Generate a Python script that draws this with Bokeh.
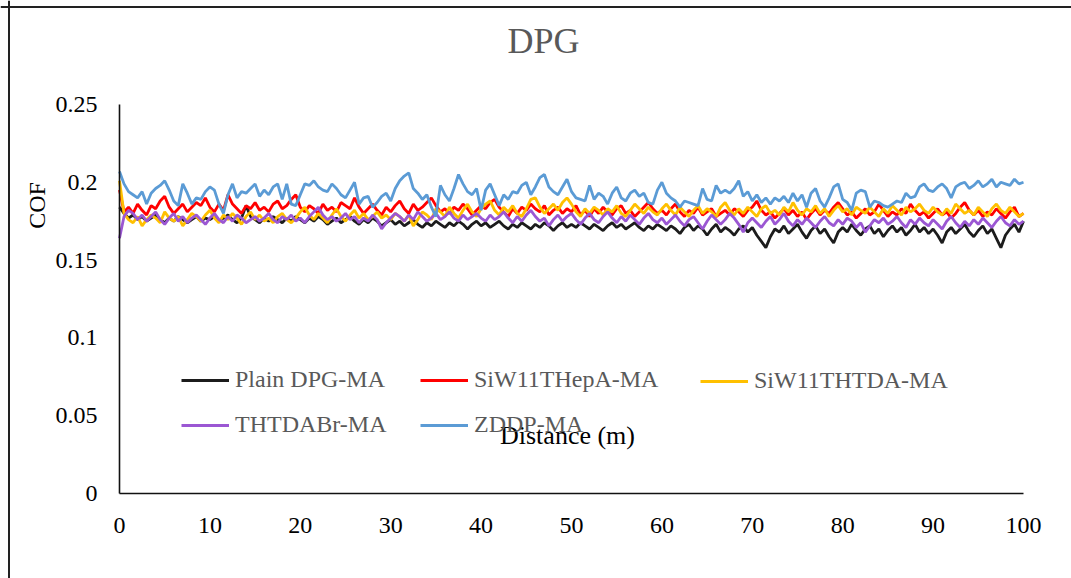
from math import pi
from bokeh.plotting import figure
from bokeh.models import (Label, Legend, LegendItem, FixedTicker, Range1d, Span)
from bokeh.embed import file_html
from bokeh.resources import INLINE

title_text = "DPG"
x_label = "Distance (m)"
y_label = "COF"
series_names = ["Plain DPG-MA", "SiW11THepA-MA", "SiW11THTDA-MA", "THTDABr-MA", "ZDDP-MA"]
series_colors = ["#1c1c1c", "#ff0000", "#ffc000", "#9b57d3", "#5b9bd5"]
x_ticks = [0, 10, 20, 30, 40, 50, 60, 70, 80, 90, 100]
y_ticks = [0, 0.05, 0.1, 0.15, 0.2, 0.25]
y_tick_labels = ["0", "0.05", "0.1", "0.15", "0.2", "0.25"]

# COF readings every 0.5 m from 0 to 100 m
plain_dpg = [
    0.184, 0.180, 0.177, 0.179, 0.176, 0.178, 0.175, 0.177, 0.179, 0.176, 0.174, 0.177, 0.175, 0.178, 0.176, 0.174, 0.176, 0.178, 0.175, 0.177,
    0.176, 0.178, 0.175, 0.177, 0.179, 0.176, 0.174, 0.177, 0.185, 0.178, 0.176, 0.174, 0.177, 0.175, 0.178, 0.176, 0.174, 0.177, 0.175, 0.178,
    0.176, 0.174, 0.177, 0.175, 0.178, 0.176, 0.173, 0.175, 0.177, 0.174, 0.176, 0.178, 0.175, 0.173, 0.176, 0.174, 0.177, 0.175, 0.172, 0.174,
    0.176, 0.173, 0.175, 0.172, 0.174, 0.176, 0.173, 0.171, 0.174, 0.172, 0.175, 0.173, 0.171, 0.174, 0.172, 0.175, 0.173, 0.170, 0.173, 0.175,
    0.172, 0.174, 0.171, 0.173, 0.175, 0.172, 0.170, 0.173, 0.171, 0.174, 0.172, 0.170, 0.173, 0.171, 0.174, 0.172, 0.169, 0.172, 0.174, 0.171,
    0.173, 0.171, 0.174, 0.172, 0.170, 0.173, 0.171, 0.169, 0.172, 0.174, 0.171, 0.173, 0.170, 0.172, 0.174, 0.171, 0.169, 0.172, 0.170, 0.173,
    0.171, 0.169, 0.172, 0.170, 0.167, 0.171, 0.173, 0.169, 0.172, 0.170, 0.166, 0.170, 0.173, 0.168, 0.171, 0.169, 0.166, 0.170, 0.172, 0.168,
    0.171, 0.166, 0.162, 0.158, 0.165, 0.170, 0.168, 0.172, 0.167, 0.170, 0.173, 0.168, 0.164, 0.169, 0.172, 0.167, 0.170, 0.165, 0.161, 0.168,
    0.171, 0.168, 0.173, 0.169, 0.166, 0.170, 0.172, 0.167, 0.170, 0.165, 0.169, 0.172, 0.168, 0.171, 0.166, 0.169, 0.173, 0.168, 0.171, 0.167,
    0.170, 0.166, 0.161, 0.168, 0.171, 0.167, 0.170, 0.173, 0.168, 0.165, 0.169, 0.172, 0.167, 0.170, 0.164, 0.158, 0.166, 0.170, 0.173, 0.168, 0.175,
]
siw11thepa = [
    0.195, 0.181, 0.184, 0.180, 0.186, 0.182, 0.179, 0.185, 0.183, 0.188, 0.191, 0.184, 0.180, 0.183, 0.186, 0.181, 0.184, 0.187, 0.185, 0.190,
    0.184, 0.181, 0.186, 0.182, 0.192, 0.186, 0.183, 0.180, 0.185, 0.183, 0.187, 0.182, 0.184, 0.181, 0.186, 0.188, 0.183, 0.185, 0.189, 0.192,
    0.184, 0.181, 0.185, 0.183, 0.180, 0.186, 0.182, 0.184, 0.181, 0.187, 0.185, 0.183, 0.190, 0.184, 0.180, 0.183, 0.186, 0.182, 0.179, 0.184,
    0.181, 0.185, 0.188, 0.183, 0.180, 0.186, 0.182, 0.184, 0.187, 0.190, 0.185, 0.181, 0.183, 0.180, 0.184, 0.182, 0.186, 0.183, 0.179, 0.182,
    0.185, 0.183, 0.187, 0.189, 0.184, 0.181, 0.178, 0.183, 0.180, 0.184, 0.182, 0.186, 0.183, 0.181, 0.185, 0.179, 0.182, 0.184, 0.180, 0.183,
    0.181, 0.185, 0.179, 0.182, 0.178, 0.183, 0.180, 0.184, 0.181, 0.179, 0.183, 0.185, 0.180, 0.182, 0.178, 0.181, 0.184, 0.187, 0.183, 0.180,
    0.182, 0.179, 0.183, 0.186, 0.181, 0.178, 0.182, 0.180, 0.184, 0.179, 0.181, 0.183, 0.178, 0.180, 0.182, 0.179, 0.183, 0.181, 0.178, 0.182,
    0.184, 0.188, 0.182, 0.179, 0.181, 0.177, 0.180, 0.183, 0.179, 0.182, 0.178, 0.181, 0.176, 0.180, 0.183, 0.179, 0.182, 0.180, 0.184, 0.187,
    0.183, 0.179, 0.181, 0.177, 0.180, 0.183, 0.179, 0.181, 0.186, 0.182, 0.178, 0.181, 0.179, 0.183, 0.180, 0.186, 0.182, 0.179, 0.181, 0.177,
    0.180, 0.183, 0.179, 0.181, 0.177, 0.180, 0.184, 0.187, 0.182, 0.179, 0.182, 0.178, 0.181, 0.179, 0.183, 0.180, 0.177, 0.181, 0.184, 0.178, 0.180,
]
siw11thtda = [
    0.201, 0.180, 0.176, 0.174, 0.178, 0.172, 0.176, 0.179, 0.177, 0.174, 0.181, 0.177, 0.175, 0.178, 0.172, 0.176, 0.180, 0.178, 0.175, 0.179,
    0.182, 0.177, 0.174, 0.179, 0.176, 0.180, 0.177, 0.173, 0.178, 0.181, 0.176, 0.179, 0.175, 0.177, 0.174, 0.178, 0.180, 0.176, 0.174, 0.177,
    0.181, 0.184, 0.179, 0.176, 0.180, 0.177, 0.174, 0.179, 0.183, 0.178, 0.175, 0.179, 0.182, 0.177, 0.180, 0.176, 0.178, 0.181, 0.177, 0.179,
    0.176, 0.180, 0.178, 0.175, 0.179, 0.172, 0.176, 0.181, 0.179, 0.176, 0.183, 0.181, 0.178, 0.184, 0.180, 0.177, 0.182, 0.186, 0.181, 0.178,
    0.183, 0.186, 0.188, 0.182, 0.179, 0.184, 0.181, 0.185, 0.180, 0.178, 0.183, 0.189, 0.190, 0.184, 0.180, 0.183, 0.186, 0.182, 0.187, 0.190,
    0.186, 0.181, 0.178, 0.183, 0.180, 0.184, 0.182, 0.179, 0.183, 0.181, 0.185, 0.180, 0.178, 0.182, 0.186, 0.183, 0.180, 0.184, 0.181, 0.179,
    0.183, 0.186, 0.182, 0.179, 0.184, 0.181, 0.178, 0.182, 0.185, 0.180, 0.183, 0.181, 0.178, 0.184, 0.187, 0.182, 0.179, 0.183, 0.180, 0.184,
    0.181, 0.178, 0.183, 0.185, 0.180, 0.182, 0.179, 0.184, 0.181, 0.187, 0.182, 0.179, 0.183, 0.181, 0.185, 0.180, 0.183, 0.178, 0.182, 0.185,
    0.181, 0.183, 0.179, 0.184, 0.182, 0.180, 0.184, 0.181, 0.178, 0.183, 0.180, 0.185, 0.182, 0.179, 0.184, 0.181, 0.183, 0.186, 0.182, 0.180,
    0.184, 0.181, 0.179, 0.183, 0.180, 0.186, 0.183, 0.180, 0.182, 0.179, 0.184, 0.181, 0.178, 0.183, 0.186, 0.182, 0.180, 0.184, 0.181, 0.178, 0.180,
]
thtdabr = [
    0.164, 0.178, 0.182, 0.180, 0.176, 0.179, 0.175, 0.178, 0.181, 0.176, 0.173, 0.177, 0.180, 0.175, 0.178, 0.174, 0.177, 0.179, 0.176, 0.173,
    0.177, 0.180, 0.176, 0.174, 0.178, 0.175, 0.179, 0.177, 0.174, 0.176, 0.178, 0.175, 0.177, 0.180, 0.176, 0.174, 0.178, 0.176, 0.179, 0.175,
    0.177, 0.174, 0.178, 0.181, 0.184, 0.179, 0.176, 0.178, 0.175, 0.177, 0.180, 0.176, 0.178, 0.174, 0.177, 0.175, 0.179, 0.176, 0.170, 0.174,
    0.177, 0.180, 0.178, 0.175, 0.179, 0.176, 0.181, 0.178, 0.175, 0.177, 0.180, 0.176, 0.178, 0.181, 0.177, 0.175, 0.179, 0.176, 0.178, 0.180,
    0.177, 0.175, 0.179, 0.176, 0.178, 0.181, 0.177, 0.174, 0.178, 0.175, 0.179, 0.182, 0.178, 0.175, 0.177, 0.172, 0.176, 0.179, 0.175, 0.178,
    0.180, 0.176, 0.173, 0.177, 0.180, 0.176, 0.174, 0.178, 0.181, 0.177, 0.174, 0.178, 0.175, 0.179, 0.176, 0.173, 0.177, 0.180, 0.176, 0.174,
    0.177, 0.173, 0.176, 0.179, 0.175, 0.172, 0.176, 0.178, 0.174, 0.170, 0.175, 0.179, 0.176, 0.173, 0.176, 0.180, 0.177, 0.173, 0.168, 0.174,
    0.177, 0.174, 0.171, 0.175, 0.178, 0.173, 0.176, 0.180, 0.175, 0.172, 0.176, 0.173, 0.177, 0.174, 0.171, 0.175, 0.178, 0.174, 0.172, 0.176,
    0.173, 0.177, 0.175, 0.171, 0.174, 0.168, 0.172, 0.176, 0.174, 0.177, 0.173, 0.175, 0.178, 0.174, 0.171, 0.176, 0.173, 0.177, 0.174, 0.172,
    0.176, 0.173, 0.170, 0.175, 0.178, 0.174, 0.171, 0.175, 0.172, 0.176, 0.173, 0.177, 0.174, 0.171, 0.175, 0.178, 0.174, 0.172, 0.176, 0.173, 0.175,
]
zddp = [
    0.207, 0.199, 0.194, 0.192, 0.190, 0.194, 0.186, 0.193, 0.196, 0.198, 0.201, 0.195, 0.188, 0.185, 0.199, 0.193, 0.186, 0.190, 0.189, 0.194,
    0.197, 0.195, 0.186, 0.180, 0.192, 0.199, 0.190, 0.194, 0.193, 0.196, 0.199, 0.191, 0.195, 0.192, 0.197, 0.199, 0.189, 0.199, 0.186, 0.185,
    0.192, 0.199, 0.198, 0.201, 0.197, 0.195, 0.194, 0.199, 0.196, 0.192, 0.190, 0.195, 0.200, 0.186, 0.190, 0.191, 0.184, 0.187, 0.191, 0.193,
    0.188, 0.196, 0.201, 0.204, 0.206, 0.196, 0.193, 0.189, 0.192, 0.184, 0.178, 0.198, 0.192, 0.188, 0.196, 0.205, 0.199, 0.194, 0.192, 0.196,
    0.182, 0.195, 0.199, 0.192, 0.185, 0.192, 0.189, 0.194, 0.193, 0.198, 0.200, 0.192, 0.197, 0.203, 0.205, 0.197, 0.194, 0.192, 0.197, 0.202,
    0.194, 0.190, 0.189, 0.188, 0.198, 0.189, 0.193, 0.191, 0.186, 0.193, 0.197, 0.190, 0.188, 0.193, 0.195, 0.191, 0.193, 0.187, 0.186, 0.195,
    0.200, 0.193, 0.190, 0.188, 0.184, 0.188, 0.187, 0.186, 0.185, 0.196, 0.189, 0.188, 0.198, 0.193, 0.195, 0.193, 0.196, 0.201, 0.191, 0.194,
    0.188, 0.192, 0.187, 0.190, 0.186, 0.190, 0.188, 0.191, 0.187, 0.193, 0.188, 0.192, 0.184, 0.193, 0.196, 0.188, 0.184, 0.190, 0.197, 0.199,
    0.189, 0.187, 0.182, 0.193, 0.195, 0.194, 0.184, 0.188, 0.187, 0.185, 0.184, 0.186, 0.188, 0.187, 0.193, 0.190, 0.191, 0.197, 0.199, 0.195,
    0.194, 0.197, 0.199, 0.196, 0.190, 0.197, 0.199, 0.200, 0.196, 0.198, 0.201, 0.197, 0.199, 0.202, 0.197, 0.200, 0.199, 0.198, 0.202, 0.199, 0.200,
]
series_values = [plain_dpg, siw11thepa, siw11thtda, thtdabr, zddp]

FONT = "Liberation Serif"

# page geometry in pixels: the plotting frame fills the whole canvas and the
# axes are pinned at the data origin, so labels and the outer box fit inside it
W, H = 1071, 578
AX_LEFT, AX_RIGHT, AX_TOP, AX_BOTTOM = 119.0, 1023.0, 104.0, 493.0
px_x = (AX_RIGHT - AX_LEFT) / (x_ticks[-1] - x_ticks[0])
px_y = (AX_BOTTOM - AX_TOP) / (y_ticks[-1] - y_ticks[0])


def dx(px):
    return x_ticks[0] + (px - AX_LEFT) / px_x


def dy(py):
    return y_ticks[0] + (AX_BOTTOM - py) / px_y


p = figure(width=W, height=H, title=None,
           x_range=Range1d(dx(0), dx(W)), y_range=Range1d(dy(H), dy(0)),
           output_backend="svg", toolbar_location=None,
           min_border_left=0, min_border_right=0,
           min_border_top=0, min_border_bottom=0)
p.outline_line_color = None
p.xgrid.grid_line_color = None
p.ygrid.grid_line_color = None
p.background_fill_color = "white"
p.border_fill_color = "white"

for ax in (p.xaxis[0], p.yaxis[0]):
    ax.axis_line_color = "#111111"
    ax.axis_line_width = 1.6
    ax.major_tick_line_color = None
    ax.minor_tick_line_color = None
    ax.major_label_text_font = FONT
    ax.major_label_text_font_size = "24px"
    ax.major_label_text_color = "black"

p.xaxis.ticker = FixedTicker(ticks=x_ticks)
p.xaxis.fixed_location = y_ticks[0]
p.xaxis.bounds = (x_ticks[0], x_ticks[-1])
p.xaxis.major_label_standoff = 18
p.yaxis.ticker = FixedTicker(ticks=y_ticks)
p.yaxis.fixed_location = x_ticks[0]
p.yaxis.bounds = (y_ticks[0], y_ticks[-1])
p.yaxis.major_label_overrides = {t: s for t, s in zip(y_ticks, y_tick_labels)}
p.yaxis.major_label_standoff = 16

# outer chart box (top and left edges visible in the picture)
p.add_layout(Span(location=dy(6.5), dimension="width", line_color="#222222", line_width=2))
p.add_layout(Span(location=dx(8.5), dimension="height", line_color="#222222", line_width=2))

renderers = {}
for name, vals, col in zip(series_names, series_values, series_colors):
    n = len(vals)
    xs = [x_ticks[0] + (x_ticks[-1] - x_ticks[0]) * i / (n - 1) for i in range(n)]
    renderers[name] = p.line(xs, vals, line_color=col, line_width=2.8)

legend_columns = [
    ([series_names[0], series_names[3]], (181, 140)),
    ([series_names[1], series_names[4]], (420, 140)),
    ([series_names[2]], (700, 184)),
]
for names, loc in legend_columns:
    leg = Legend(items=[LegendItem(label=nm, renderers=[renderers[nm]]) for nm in names],
                 location=loc, orientation="vertical",
                 glyph_width=48, glyph_height=20, label_height=20,
                 label_standoff=6, spacing=18, padding=0, margin=0,
                 label_text_font=FONT, label_text_font_size="24px",
                 label_text_color="#595959",
                 background_fill_alpha=0, border_line_color=None)
    p.add_layout(leg)

p.add_layout(Label(x=dx(543), y=dy(40.5), text=title_text, text_font=FONT,
                   text_font_size="36px", text_color="#595959",
                   text_align="center", text_baseline="middle"))
p.add_layout(Label(x=dx(36), y=dy(205), text=y_label, text_font=FONT,
                   text_font_size="24px", text_color="black", angle=pi / 2,
                   text_align="center", text_baseline="middle"))
p.add_layout(Label(x=dx(567), y=dy(435), text=x_label, text_font=FONT,
                   text_font_size="26px", text_color="black",
                   text_align="center", text_baseline="middle"))

open("out.html", "w").write(file_html(p, INLINE))
